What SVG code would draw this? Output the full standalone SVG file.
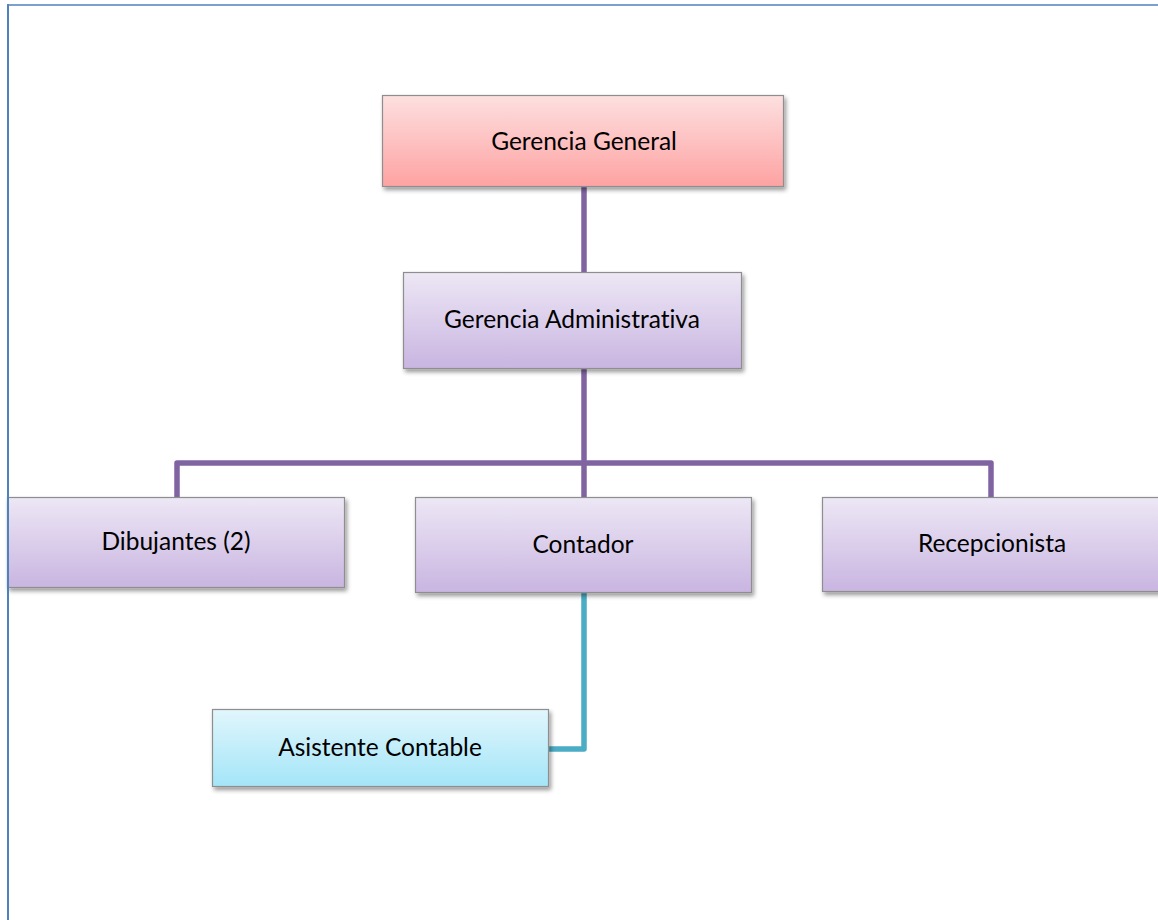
<svg xmlns="http://www.w3.org/2000/svg" width="1158" height="920" viewBox="0 0 1158 920">
  <style>
    .box { stroke: #8e8e8e; stroke-width: 1.2; filter: url(#shadow); }
    .label { font-family: Lato, "Liberation Sans", sans-serif; font-size: 24.5px; fill: #000; text-anchor: middle; font-variant-ligatures: none; }
    .link-purple { fill: none; stroke: #8064A2; stroke-width: 5.5; stroke-linejoin: round; }
    .link-teal { fill: none; stroke: #4BACC6; stroke-width: 5.5; stroke-linejoin: round; }
    .frame { stroke: #4F81BD; fill: none; }
  </style>
  <defs>
    <linearGradient id="gradRed" x1="0" y1="0" x2="0" y2="1">
      <stop offset="0" stop-color="#fde0e0"/>
      <stop offset="1" stop-color="#fea2a2"/>
    </linearGradient>
    <linearGradient id="gradPurple" x1="0" y1="0" x2="0" y2="1">
      <stop offset="0" stop-color="#ede7f5"/>
      <stop offset="1" stop-color="#c9b5e1"/>
    </linearGradient>
    <linearGradient id="gradCyan" x1="0" y1="0" x2="0" y2="1">
      <stop offset="0" stop-color="#e1f6fc"/>
      <stop offset="1" stop-color="#a3e5f8"/>
    </linearGradient>
    <filter id="shadow" x="-5%" y="-10%" width="115%" height="130%">
      <feDropShadow dx="2" dy="3" stdDeviation="2" flood-color="#000" flood-opacity="0.4"/>
    </filter>
  </defs>

  <rect width="1158" height="920" fill="#ffffff"/>

  <!-- connectors -->
  <g id="connectors">
    <line class="link-purple" x1="584" y1="187" x2="584" y2="272"/>
    <line class="link-purple" x1="584" y1="369" x2="584" y2="497"/>
    <path class="link-purple" d="M177,497 V463 H991 V497"/>
    <path class="link-teal" d="M584,593 V749 H549"/>
  </g>

  <g id="node-gerencia-general">
    <rect class="box" x="382.5" y="95.5" width="401" height="91" fill="url(#gradRed)"/>
    <text class="label" x="584" y="150">Gerencia General</text>
  </g>

  <g id="node-gerencia-administrativa">
    <rect class="box" x="403.5" y="272.5" width="338" height="96" fill="url(#gradPurple)"/>
    <text class="label" x="572" y="328">Gerencia Administrativa</text>
  </g>

  <g id="node-dibujantes">
    <rect class="box" x="7.5" y="497.5" width="337" height="90" fill="url(#gradPurple)"/>
    <text class="label" x="176" y="550">Dibujantes (2)</text>
  </g>

  <g id="node-contador">
    <rect class="box" x="415.5" y="497.5" width="336" height="95" fill="url(#gradPurple)"/>
    <text class="label" x="583" y="553">Contador</text>
  </g>

  <g id="node-recepcionista">
    <rect class="box" x="822.5" y="497.5" width="340" height="94" fill="url(#gradPurple)"/>
    <text class="label" x="992" y="552">Recepcionista</text>
  </g>

  <g id="node-asistente-contable">
    <rect class="box" x="212.5" y="709.5" width="336" height="77" fill="url(#gradCyan)"/>
    <text class="label" x="380" y="756">Asistente Contable</text>
  </g>

  <!-- page frame -->
  <line class="frame" x1="7" y1="5" x2="1158" y2="5" stroke-width="1.6"/>
  <line class="frame" x1="8" y1="4.2" x2="8" y2="920" stroke-width="2"/>
</svg>
